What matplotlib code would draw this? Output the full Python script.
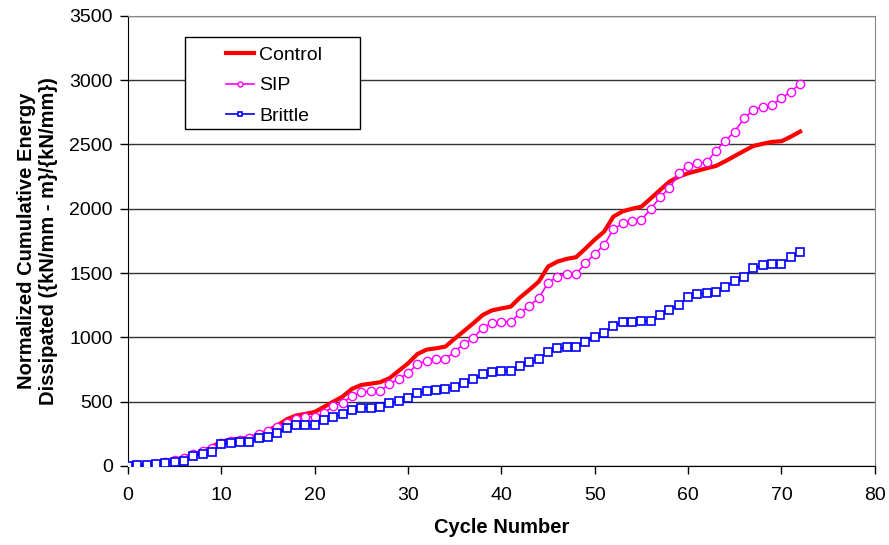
import numpy as np
import matplotlib
matplotlib.use('Agg')
import matplotlib.pyplot as plt
from matplotlib.patches import Rectangle

plt.rcParams['font.family'] = ['Liberation Sans', 'DejaVu Sans']

# 循环次数 0..72
cycles = list(range(73))

control = [0, 3, 8, 15, 25, 45, 65, 90, 110, 150,
           189, 205, 212, 220, 240, 275, 315, 363, 392, 405,
           420, 460, 500, 540, 600, 630, 640, 651, 682, 740,
           798, 870, 905, 915, 928, 990, 1050, 1110, 1174, 1210,
           1225, 1239, 1310, 1370, 1433, 1550, 1589, 1610, 1623, 1690,
           1760, 1822, 1939, 1980, 2000, 2016, 2080, 2146, 2210, 2250,
           2276, 2295, 2315, 2333, 2370, 2410, 2450, 2488, 2505, 2520,
           2525, 2560, 2600]

sip = [0, 4, 8, 15, 30, 45, 60, 90, 115, 140,
       180, 195, 200, 215, 245, 270, 300, 337, 368, 378,
       383, 410, 467, 492, 544, 573, 583, 586, 635, 677,
       721, 791, 819, 829, 832, 889, 949, 993, 1076, 1110,
       1122, 1122, 1187, 1247, 1304, 1425, 1472, 1493, 1493, 1576,
       1649, 1718, 1840, 1887, 1908, 1913, 1998, 2089, 2159, 2276,
       2333, 2353, 2362, 2452, 2530, 2600, 2704, 2768, 2794, 2807,
       2859, 2911, 2970]

brittle = [0, 8, 10, 16, 21, 34, 41, 78, 93, 111,
           168, 182, 184, 189, 215, 228, 254, 293, 319, 319,
           319, 358, 379, 405, 436, 449, 454, 456, 487, 508,
           526, 565, 583, 591, 596, 617, 648, 674, 715, 731,
           738, 741, 780, 806, 832, 889, 914, 922, 928, 967,
           1000, 1032, 1091, 1117, 1122, 1127, 1127, 1174, 1213, 1252,
           1312, 1337, 1343, 1350, 1394, 1438, 1472, 1537, 1563, 1571,
           1571, 1623, 1666]

fig = plt.figure(figsize=(8.89, 5.45), dpi=100)
ax = fig.add_axes([0.144, 0.145, 0.840, 0.826])

ax.plot(cycles, control, color='#ff0000', lw=3, label='Control', zorder=3)
ax.plot(cycles, sip, color='#ff00ff', lw=1.2, marker='o', ms=6,
        mfc='white', mec='#ff00ff', mew=1.0, label='SIP', zorder=4)
ax.plot(cycles, brittle, color='#0000ff', lw=1.2, marker='s', ms=6,
        mfc='white', mec='#0000ff', mew=1.2, label='Brittle', zorder=5)

ax.set_xlim(0, 80)
ax.set_ylim(0, 3500)
ax.set_xticks(np.arange(0, 81, 10))
ax.set_yticks(np.arange(0, 3501, 500))
ax.yaxis.grid(True, color='#333333', lw=1.0)
ax.set_axisbelow(True)

for s in ['top', 'right']:
    ax.spines[s].set_color('#888888')
for s in ['left', 'bottom']:
    ax.spines[s].set_color('black')
ax.tick_params(direction='out', length=6, width=1, labelsize=14, pad=9)
ax.tick_params(axis='y', pad=5)

ax.set_xlabel('Cycle Number', fontsize=14.5, fontweight='bold', labelpad=10)
ax.set_ylabel('Normalized Cumulative Energy\nDissipated ({kN/mm - m}/{kN/mm})',
              fontsize=14.5, fontweight='bold', labelpad=8)

# 图例方框
box = Rectangle((0.0763, 0.749), 0.234, 0.204, transform=ax.transAxes,
                facecolor='white', edgecolor='black', lw=1.0, zorder=6)
ax.add_patch(box)
leg = ax.legend(loc='upper left', bbox_to_anchor=(0.131, 0.933), fontsize=14,
                frameon=False, borderpad=0, borderaxespad=0,
                handlelength=1.45, handletextpad=0.25,
                labelspacing=0.68, markerscale=0.6)
leg.set_zorder(7)

fig.savefig('out.png', dpi=100)
